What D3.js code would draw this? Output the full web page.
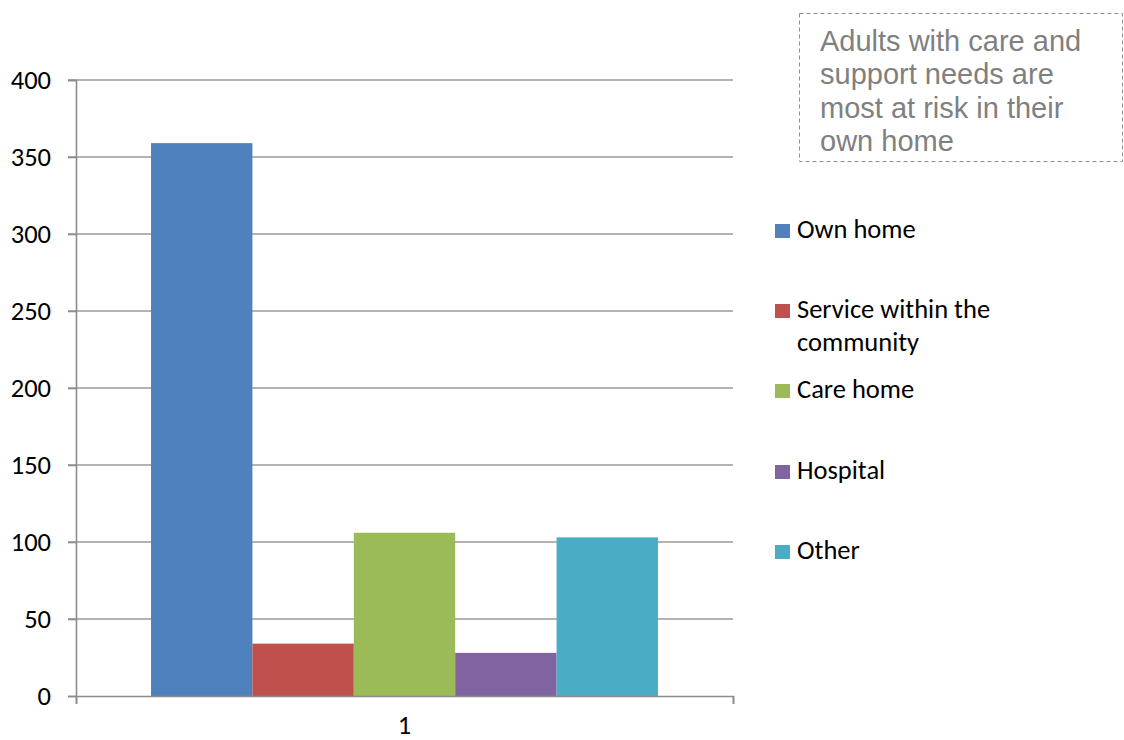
<!DOCTYPE html>
<html>
<head>
<meta charset="utf-8">
<script src="https://cdn.jsdelivr.net/npm/d3@7"></script>
<style>
  html, body { margin: 0; padding: 0; background: #fff; }
  svg { display: block; }
</style>
</head>
<body>
<svg id="chart" width="1124" height="740"></svg>
<script>
// Safeguarding concerns by location of risk
const categories = ["1"];
const seriesNames = ["Own home", "Service within the community", "Care home", "Hospital", "Other"];
const seriesValues = [359, 34, 106, 28, 103];
const seriesColors = ["#4f81bd", "#c0504d", "#9bbb59", "#8064a2", "#4bacc6"];
const yTicks = [0, 50, 100, 150, 200, 250, 300, 350, 400];
const legendLines = [["Own home"], ["Service within the", "community"], ["Care home"], ["Hospital"], ["Other"]];
const noteLines = ["Adults with care and", "support needs are", "most at risk in their", "own home"];

const svg = d3.select("#chart");
const plot = { left: 76, right: 733, top: 80, bottom: 696 };
const labelFont = "Carlito, Calibri, 'Open Sans', 'Noto Sans', sans-serif";
const labelSize = 26.5;

const y = d3.scaleLinear().domain([0, 400]).range([plot.bottom, plot.top]);
const x0 = d3.scaleBand().domain(categories).range([plot.left, plot.right]).paddingInner(0).paddingOuter(0.148);
const x1 = d3.scaleBand().domain(seriesNames).range([0, x0.bandwidth()]).padding(0);

// Gridlines
svg.append("g")
  .selectAll("line")
  .data(yTicks.filter(t => t > 0))
  .join("line")
  .attr("x1", plot.left - 8).attr("x2", plot.right)
  .attr("y1", d => y(d)).attr("y2", d => y(d))
  .attr("stroke", "#9a9a9a").attr("stroke-width", 1.6);

// Bars
const group = svg.append("g")
  .selectAll("g")
  .data(categories)
  .join("g")
  .attr("transform", d => `translate(${x0(d)},0)`);

group.selectAll("rect")
  .data(seriesNames.map((name, i) => ({ name, value: seriesValues[i], color: seriesColors[i] })))
  .join("rect")
  .attr("x", d => x1(d.name))
  .attr("width", x1.bandwidth())
  .attr("y", d => y(d.value))
  .attr("height", d => y(0) - y(d.value))
  .attr("fill", d => d.color);

// Y axis
const yAxis = svg.append("g")
  .attr("transform", `translate(${plot.left},0)`)
  .call(d3.axisLeft(y).tickValues(yTicks).tickSize(8).tickPadding(17));
yAxis.select(".domain").attr("stroke", "#8c8c8c").attr("stroke-width", 1.6);
yAxis.selectAll(".tick line").attr("stroke", "#8c8c8c").attr("stroke-width", 1.6);
yAxis.selectAll("text")
  .attr("font-family", labelFont).attr("font-size", labelSize).attr("fill", "#000");

// X axis
const xAxisScale = d3.scaleLinear().domain([0, 1]).range([plot.left, plot.right]);
const xAxis = svg.append("g")
  .attr("transform", `translate(0,${plot.bottom})`)
  .call(d3.axisBottom(xAxisScale).tickValues([0, 1]).tickSize(8).tickFormat(""));
xAxis.select(".domain").attr("stroke", "#8c8c8c").attr("stroke-width", 1.6);
xAxis.selectAll(".tick line").attr("stroke", "#8c8c8c").attr("stroke-width", 1.6);

svg.append("g")
  .selectAll("text")
  .data(categories)
  .join("text")
  .attr("x", d => x0(d) + x0.bandwidth() / 2)
  .attr("y", 734)
  .attr("text-anchor", "middle")
  .attr("font-family", labelFont).attr("font-size", labelSize)
  .text(d => d);

// Legend
const legendBaselines = [238, 318, 398, 479, 559];
const legend = svg.append("g")
  .selectAll("g")
  .data(seriesNames)
  .join("g")
  .attr("transform", (d, i) => `translate(775,${legendBaselines[i]})`);

legend.append("rect")
  .attr("x", 0).attr("y", -14).attr("width", 15).attr("height", 14)
  .attr("fill", (d, i) => seriesColors[i]);

legend.append("text")
  .attr("x", 22).attr("y", 0)
  .attr("font-family", labelFont).attr("font-size", labelSize).attr("fill", "#000")
  .selectAll("tspan")
  .data((d, i) => legendLines[i])
  .join("tspan")
  .attr("x", 22)
  .attr("dy", (d, j) => j === 0 ? 0 : 33)
  .text(d => d);

// Annotation box
svg.append("rect")
  .attr("x", 799.5).attr("y", 13.5).attr("width", 323).attr("height", 148)
  .attr("fill", "none").attr("stroke", "#8f8f8f").attr("stroke-width", 1)
  .attr("stroke-dasharray", "4,3");

svg.append("text")
  .attr("font-family", "'Liberation Sans', Arial, sans-serif")
  .attr("font-size", 29).attr("fill", "#808080")
  .selectAll("tspan")
  .data(noteLines)
  .join("tspan")
  .attr("x", 820)
  .attr("y", (d, i) => 51 + i * 33.3)
  .text(d => d);
</script>
</body>
</html>
